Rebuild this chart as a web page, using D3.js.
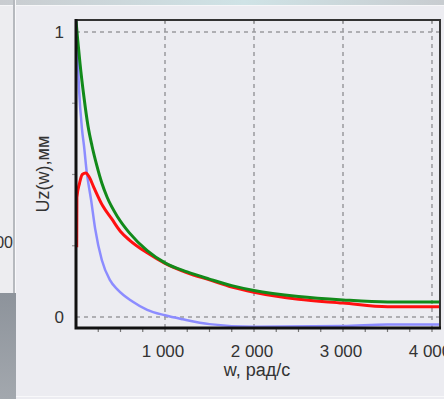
<!DOCTYPE html>
<html><head><meta charset="utf-8">
<script src="https://cdn.jsdelivr.net/npm/d3@7"></script>
<style>
html,body{margin:0;padding:0;background:#ececf1;}
svg{display:block;font-family:"Liberation Sans",Arial,sans-serif;}
</style></head>
<body><svg id="c" width="444" height="399"></svg>
<script>
// ---- data ----
const xTicks = [1000, 2000, 3000, 4000];
const xTickLabels = ["1 000", "2 000", "3 000", "4 000"];
const yTicks = [0, 1];
const yTickLabels = ["0", "1"];
const xTitle = "w, рад/с";
const yTitle = "Uz(w),мм";

const greenW = [0, 20, 45, 90, 135, 180, 235, 290, 350, 470, 600, 800, 1000, 1250, 1500, 1750, 2000, 2500, 3000, 3500, 4090];
const greenU = [1.04, 0.97, 0.89, 0.77, 0.67, 0.60, 0.53, 0.47, 0.42, 0.35, 0.295, 0.233, 0.19, 0.158, 0.133, 0.11, 0.093, 0.072, 0.06, 0.053, 0.053];

const redW = [8, 10, 40, 70, 110, 150, 200, 300, 400, 500, 600, 800, 1000, 1250, 1500, 1750, 2000, 2500, 3000, 3500, 4090];
const redU = [0.245, 0.42, 0.47, 0.50, 0.505, 0.49, 0.455, 0.39, 0.345, 0.30, 0.27, 0.225, 0.188, 0.155, 0.13, 0.105, 0.087, 0.062, 0.049, 0.036, 0.036];

const blueW = [0, 15, 34, 67, 90, 120, 170, 215, 290, 380, 470, 630, 800, 1000, 1200, 1500, 2000, 3000, 3500, 4090];
const blueU = [1.04, 0.94, 0.80, 0.66, 0.60, 0.51, 0.41, 0.31, 0.20, 0.13, 0.095, 0.055, 0.025, 0.006, -0.008, -0.025, -0.034, -0.032, -0.026, -0.026];

// ---- layout ----
const svg = d3.select("#c");
const L = 76, R = 440, T = 20, B = 328;
const x = d3.scaleLinear().domain([0, 4090]).range([L, R]);
const y = d3.scaleLinear().domain([-0.0386, 1.042]).range([B, T]);

// window decoration
const defs = svg.append("defs");
const gTop = defs.append("linearGradient").attr("id","gt").attr("x1",0).attr("x2",1).attr("y1",0).attr("y2",0);
gTop.append("stop").attr("offset","0").attr("stop-color","#c9ccd0");
gTop.append("stop").attr("offset","0.55").attr("stop-color","#cfe3e6");
gTop.append("stop").attr("offset","1").attr("stop-color","#c8ccd0");
svg.append("rect").attr("x",0).attr("y",0).attr("width",444).attr("height",5).attr("fill","url(#gt)");
svg.append("rect").attr("x",0).attr("y",5).attr("width",444).attr("height",1).attr("fill","#f6f6f8");
svg.append("rect").attr("x",0).attr("y",6).attr("width",13).attr("height",287).attr("fill","#ededf0");
svg.append("rect").attr("x",13).attr("y",0).attr("width",2).attr("height",293).attr("fill","#b6b9be");
svg.append("rect").attr("x",15).attr("y",0).attr("width",1).attr("height",399).attr("fill","#f8f8fa");
const gPan = defs.append("linearGradient").attr("id","gp").attr("x1",0).attr("x2",0).attr("y1",0).attr("y2",1);
gPan.append("stop").attr("offset","0").attr("stop-color","#8d939b");
gPan.append("stop").attr("offset","1").attr("stop-color","#a3a8ae");
svg.append("rect").attr("x",0).attr("y",293).attr("width",16).attr("height",106).attr("fill","url(#gp)");
svg.append("text").attr("x",13).attr("y",248).attr("text-anchor","end").attr("font-size",16).attr("fill","#333").text("00");
svg.append("rect").attr("x",16).attr("y",396).attr("width",428).attr("height",1).attr("fill","#f8f8fa");

// grid
const grid = svg.append("g").attr("stroke","#9a9a9e").attr("stroke-width",1.5).attr("stroke-dasharray","4,4");
grid.selectAll("line.v").data(xTicks).join("line").attr("class","v")
  .attr("x1",d=>x(d)).attr("x2",d=>x(d)).attr("y1",T).attr("y2",B);
grid.selectAll("line.h").data(yTicks).join("line").attr("class","h")
  .attr("x1",L).attr("x2",R).attr("y1",d=>y(d)).attr("y2",d=>y(d));

// minor ticks
const minorX = d3.range(250, 4090, 250);
svg.append("g").attr("stroke","#777").attr("stroke-width",1.2)
  .selectAll("line").data(minorX).join("line")
  .attr("x1",d=>x(d)).attr("x2",d=>x(d)).attr("y1",B).attr("y2",B+4);
svg.append("g").attr("stroke","#999").attr("stroke-width",1.2)
  .selectAll("line").data(xTicks).join("line")
  .attr("x1",d=>x(d)).attr("x2",d=>x(d)).attr("y1",T-1).attr("y2",T+3);
svg.append("g").attr("stroke","#999").attr("stroke-width",1.2)
  .selectAll("line").data([0.25,0.5,0.75]).join("line")
  .attr("x1",L-4).attr("x2",L).attr("y1",d=>y(d)).attr("y2",d=>y(d));

// curves
const line = d3.line().x(d=>x(d[0])).y(d=>y(d[1])).curve(d3.curveMonotoneX);
const clip = defs.append("clipPath").attr("id","clp");
clip.append("rect").attr("x",L).attr("y",T).attr("width",R-L).attr("height",B-T+1);
const plot = svg.append("g").attr("clip-path","url(#clp)");
plot.append("path").datum(d3.zip(blueW, blueU)).attr("d",line).attr("fill","none")
  .attr("stroke","#8c8cff").attr("stroke-width",2.5);
plot.append("path").datum(d3.zip(redW, redU)).attr("d",line).attr("fill","none")
  .attr("stroke","#ff1010").attr("stroke-width",3);
plot.append("path").datum(d3.zip(greenW, greenU)).attr("d",line).attr("fill","none")
  .attr("stroke","#128a1a").attr("stroke-width",3);

// frame
svg.append("path").attr("d",`M${L},${T}H${R}V${B}`).attr("fill","none").attr("stroke","#333").attr("stroke-width",2);
svg.append("path").attr("d",`M${L},${T-1}V${B}H${R+1}`).attr("fill","none").attr("stroke","#111").attr("stroke-width",3);

// tick labels
svg.append("g").selectAll("text").data(xTicks).join("text")
  .attr("x",(d)=>x(d)-2).attr("y",357).attr("text-anchor","middle")
  .attr("font-size",17).attr("fill","#333").text((d,i)=>xTickLabels[i]);
svg.append("g").selectAll("text").data(yTicks).join("text")
  .attr("x",64).attr("y",d=>y(d)+6).attr("text-anchor","end")
  .attr("font-size",17).attr("fill","#333").text((d,i)=>yTickLabels[i]);

// titles
svg.append("text").attr("x",257).attr("y",376).attr("text-anchor","middle")
  .attr("font-size",18).attr("fill","#333").text(xTitle);
svg.append("text").attr("transform","translate(49,174) rotate(-90)").attr("text-anchor","middle")
  .attr("font-size",18).attr("fill","#333").text(yTitle);
</script></body></html>
